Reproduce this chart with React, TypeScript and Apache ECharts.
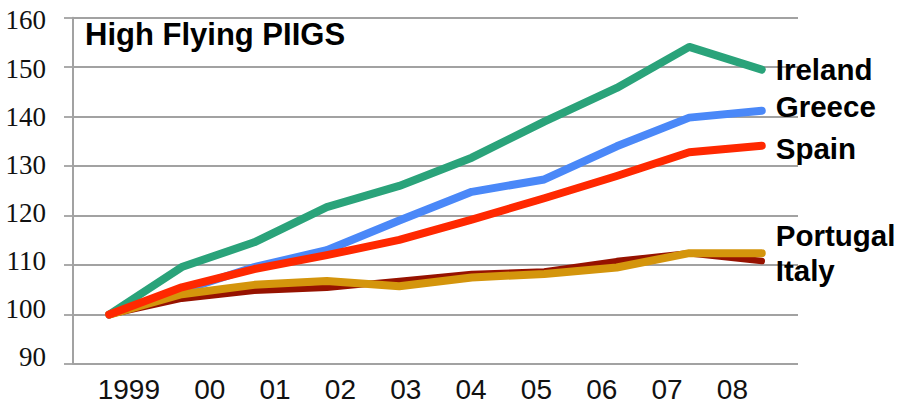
import React, { useEffect, useRef } from "react";
import * as echarts from "echarts";

// Years on the horizontal axis
const categories = ["1999", "00", "01", "02", "03", "04", "05", "06", "07", "08"];
// Vertical tick labels (index, 1999 = 100)
const yTickLabels = [90, 100, 110, 120, 130, 140, 150, 160];

const ireland = [100, 109.6, 114.6, 121.7, 126.0, 131.7, 139.0, 145.8, 154.1, 149.5];
const greece = [100, 104.8, 109.6, 113.0, 119.0, 124.8, 127.3, 134.0, 139.8, 141.2];
const spain = [100, 105.5, 109.2, 112.0, 115.1, 119.2, 123.5, 128.0, 132.8, 134.1];
const portugal = [100, 104.1, 106.0, 106.8, 105.7, 107.5, 108.2, 109.5, 112.4, 112.4];
const italy = [100, 103.2, 104.8, 105.4, 106.8, 108.2, 108.7, 110.8, 112.4, 110.8];

const SANS = "'Liberation Sans', Arial, Helvetica, sans-serif";
const SERIF = "'Liberation Serif', 'Times New Roman', serif";
const GRID_GRAY = "#a2a2a2";

function lineSeries(
  name: string,
  data: number[],
  color: string,
  width: number,
  offset: [number, number]
) {
  return {
    name,
    type: "line",
    data,
    symbol: "none",
    showSymbol: false,
    silent: true,
    lineStyle: { color, width, cap: "round", join: "round" },
    endLabel: {
      show: true,
      formatter: "{a}",
      distance: 14,
      offset,
      fontFamily: SANS,
      fontSize: 29.5,
      fontWeight: "bold",
      color: "#000",
    },
  };
}

export default function App() {
  const ref = useRef<HTMLDivElement>(null);

  useEffect(() => {
    if (!ref.current) return;
    const chart = echarts.init(ref.current, null, { renderer: "svg" });
    chart.setOption({
      animation: false,
      backgroundColor: "#fff",
      title: {
        text: "High Flying PIIGS",
        left: 85,
        top: 19,
        padding: 0,
        textStyle: { fontFamily: SANS, fontSize: 31, fontWeight: "bold", color: "#000" },
      },
      grid: { left: 73, right: 104, top: 17.7, bottom: 39, containLabel: false },
      xAxis: [
        {
          type: "category",
          data: categories,
          boundaryGap: true,
          position: "bottom",
          axisLine: { show: false },
          axisTick: { show: false },
          axisLabel: { show: false },
          splitLine: { show: false },
        },
        {
          // label row for the years
          type: "value",
          position: "bottom",
          min: -1.332,
          max: 9.765,
          axisLine: { show: false, onZero: false },
          axisTick: { show: false },
          splitLine: { show: false },
          axisLabel: {
            customValues: categories.map((_, i) => i),
            formatter: (v: number) => categories[Math.round(v)] ?? "",
            align: "right",
            margin: 11,
            fontFamily: SANS,
            fontSize: 28,
            color: "#111",
          },
        },
      ],
      yAxis: [
        {
          type: "value",
          min: 90,
          max: 160,
          interval: 10,
          position: "left",
          axisLine: { show: true, onZero: false, lineStyle: { color: GRID_GRAY, width: 2 } },
          axisTick: { show: true, length: 9, lineStyle: { color: GRID_GRAY, width: 1.8 } },
          axisLabel: { show: false },
          splitLine: { show: true, lineStyle: { color: GRID_GRAY, width: 1.8 } },
        },
        {
          // label column for the index values
          type: "value",
          position: "left",
          min: 88.54,
          max: 160.58,
          axisLine: { show: false, onZero: false },
          axisTick: { show: false },
          splitLine: { show: false },
          axisLabel: {
            customValues: yTickLabels,
            formatter: (v: number) => String(Math.round(v)),
            margin: 27,
            fontFamily: SERIF,
            fontSize: 27,
            color: "#111",
          },
        },
      ],
      series: [
        lineSeries("Ireland", ireland, "#2aa37a", 8, [0, 0]),
        lineSeries("Greece", greece, "#4a88f8", 8, [0, -4]),
        lineSeries("Italy", italy, "#961200", 6.5, [0, 9]),
        lineSeries("Portugal", portugal, "#d4950c", 8, [0, -18]),
        lineSeries("Spain", spain, "#ff2800", 8, [0, 3]),
      ],
    });
    return () => chart.dispose();
  }, []);

  return (
    <div
      ref={ref}
      style={{ position: "absolute", left: 0, top: 0, width: 902, height: 403 }}
    />
  );
}
